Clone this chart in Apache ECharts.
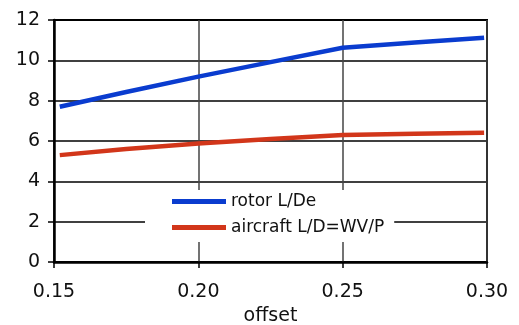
<!DOCTYPE html>
<html>
<head>
<meta charset="utf-8">
<script src="https://cdn.jsdelivr.net/npm/echarts@6/dist/echarts.min.js"></script>
<style>html,body{margin:0;padding:0;background:#fff}#c{width:519px;height:325px}</style>
</head>
<body>
<div id="c"></div>
<script>
const offsets = [0.152, 0.175, 0.20, 0.225, 0.25, 0.275, 0.299];
const rotorLDe = [7.70, 8.43, 9.19, 9.91, 10.62, 10.88, 11.12];
const aircraftLD = [5.30, 5.60, 5.88, 6.10, 6.30, 6.36, 6.41];
const seriesNames = ['rotor L/De', 'aircraft L/D=WV/P'];
const xTicks = [0.15, 0.20, 0.25, 0.30];
const yTicks = [0, 2, 4, 6, 8, 10, 12];

const font = 'DejaVu Sans';
const chart = echarts.init(document.getElementById('c'));
chart.setOption({
  animation: false,
  backgroundColor: '#fff',
  grid: { left: 54, top: 20, right: 32, bottom: 63, show: true, borderColor: '#000', borderWidth: 2,
          containLabel: false, outerBoundsMode: 'none' },
  legend: {
    orient: 'vertical', left: 145, top: 190,
    padding: [3, 10, 6, 27],
    backgroundColor: '#fff',
    itemWidth: 54, itemHeight: 5, itemGap: 9, icon: 'rect',
    textStyle: { fontFamily: font, fontSize: 17, color: '#111', lineHeight: 17 },
    data: seriesNames
  },
  xAxis: {
    type: 'value', min: xTicks[0], max: xTicks[xTicks.length - 1], interval: 0.05,
    name: 'offset', nameLocation: 'middle', nameGap: 43,
    nameTextStyle: { fontFamily: font, fontSize: 19, color: '#111' },
    axisLine: { show: true, lineStyle: { color: '#000', width: 2.5 } },
    axisTick: { show: true, length: 6, lineStyle: { color: '#000', width: 1.5 } },
    axisLabel: { fontFamily: font, fontSize: 19, color: '#111', margin: 21, formatter: v => v.toFixed(2) },
    splitLine: { show: true, lineStyle: { color: '#444', width: 1.5 } }
  },
  yAxis: {
    type: 'value', min: yTicks[0], max: yTicks[yTicks.length - 1], interval: 2,
    axisLine: { show: true, lineStyle: { color: '#000', width: 2.5 } },
    axisTick: { show: true, length: 6, lineStyle: { color: '#000', width: 1.5 } },
    axisLabel: { fontFamily: font, fontSize: 19, color: '#111', margin: 14 },
    splitLine: { show: true, lineStyle: { color: '#000', width: 1.5 } }
  },
  series: [
    { name: seriesNames[0], type: 'line', showSymbol: false, color: '#0a3ccf',
      lineStyle: { width: 4.5, color: '#0a3ccf' },
      data: offsets.map((x, i) => [x, rotorLDe[i]]) },
    { name: seriesNames[1], type: 'line', showSymbol: false, color: '#d2361a',
      lineStyle: { width: 4.5, color: '#d2361a' },
      data: offsets.map((x, i) => [x, aircraftLD[i]]) }
  ]
});
</script>
</body>
</html>
